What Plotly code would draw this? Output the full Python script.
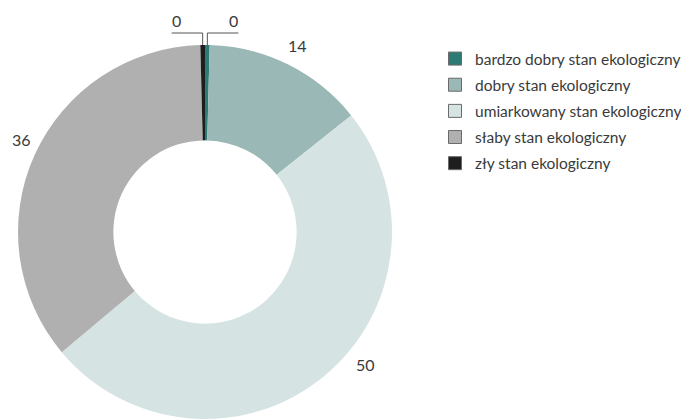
import math
import plotly.graph_objects as go

categories = [
    "bardzo dobry stan ekologiczny",
    "dobry stan ekologiczny",
    "umiarkowany stan ekologiczny",
    "słaby stan ekologiczny",
    "zły stan ekologiczny",
]
values = [0.4, 14, 50, 36, 0.4]
label_text = ["0", "14", "50", "36", "0"]
colors = ["#2e7a74", "#9ab8b6", "#d5e3e3", "#b0b0b0", "#1e1e1e"]

FONT = "Lato, Roboto, sans-serif"
TXT = "#3a3a3a"
W, H = 689, 420
OFF = 8                      # page body margin
CX, CY, R = 205, 232, 187    # pie centre and radius (page pixels)

def to_paper(x, y):
    return (x - OFF) / W, 1 - (y - OFF) / H

fig = go.Figure()
x0d, y1d = to_paper(CX - R, CY - R)
x1d, y0d = to_paper(CX + R, CY + R)
fig.add_trace(go.Pie(
    labels=categories,
    values=values,
    hole=0.49,
    sort=False,
    direction="clockwise",
    rotation=0,
    marker=dict(colors=colors, line=dict(width=0)),
    textinfo="none",
    hoverinfo="label+value",
    domain=dict(x=[x0d, x1d], y=[y0d, y1d]),
    showlegend=False,
))

# legend entries (squares with a thin grey frame)
for i, (name, c) in enumerate(zip(categories, colors)):
    fig.add_trace(go.Scatter(
        x=[None], y=[None], mode="markers", name=name, legendgroup=str(i),
        marker=dict(symbol="square", size=13, color=c, line=dict(color="#6a6a6a", width=1)),
    ))

# value labels around the ring
total = sum(values)
shift = {2: (-11, 208), 3: (2.5, 205)}
annotations, shapes = [], []
cum = 0
for i, v in enumerate(values):
    mid = (cum + v / 2) / total * 360
    cum += v
    if v / total < 0.02:
        a = math.radians(mid)
        ex, ey = CX + R * math.sin(a), CY - R * math.cos(a)
        ly = 33
        side = -1 if mid > 180 else 1
        hx = ex + side * 31
        p0 = to_paper(ex, ey)
        p1 = to_paper(ex, ly)
        p2 = to_paper(hx, ly)
        shapes.append(dict(type="path", xref="paper", yref="paper",
                           path=f"M {p0[0]} {p0[1]} L {p1[0]} {p1[1]} L {p2[0]} {p2[1]}",
                           line=dict(color="#555555", width=1)))
        tx, ty = to_paper(hx - side * 5, ly - 1)
        annotations.append(dict(x=tx, y=ty, xref="paper", yref="paper", text=label_text[i],
                                showarrow=False, xanchor="center", yanchor="bottom",
                                font=dict(family=FONT, size=16, color=TXT)))
    else:
        da, lr = shift.get(i, (0, 208))
        a = math.radians(mid + da)
        tx, ty = to_paper(CX + lr * math.sin(a), CY - lr * math.cos(a))
        annotations.append(dict(x=tx, y=ty, xref="paper", yref="paper", text=label_text[i],
                                showarrow=False, xanchor="center", yanchor="middle",
                                font=dict(family=FONT, size=16, color=TXT)))

lx, ly_ = to_paper(435, 42)
fig.update_layout(
    width=W, height=H,
    margin=dict(l=0, r=0, t=0, b=0),
    paper_bgcolor="white",
    plot_bgcolor="white",
    font=dict(family=FONT, size=15.5, color=TXT),
    xaxis=dict(visible=False),
    yaxis=dict(visible=False),
    annotations=annotations,
    shapes=shapes,
    legend=dict(x=lx, y=ly_, xanchor="left", yanchor="top",
                font=dict(family=FONT, size=15.5, color=TXT),
                traceorder="grouped", tracegroupgap=3, itemwidth=30,
                bgcolor="rgba(0,0,0,0)"),
)

fig.write_html("out.html")
